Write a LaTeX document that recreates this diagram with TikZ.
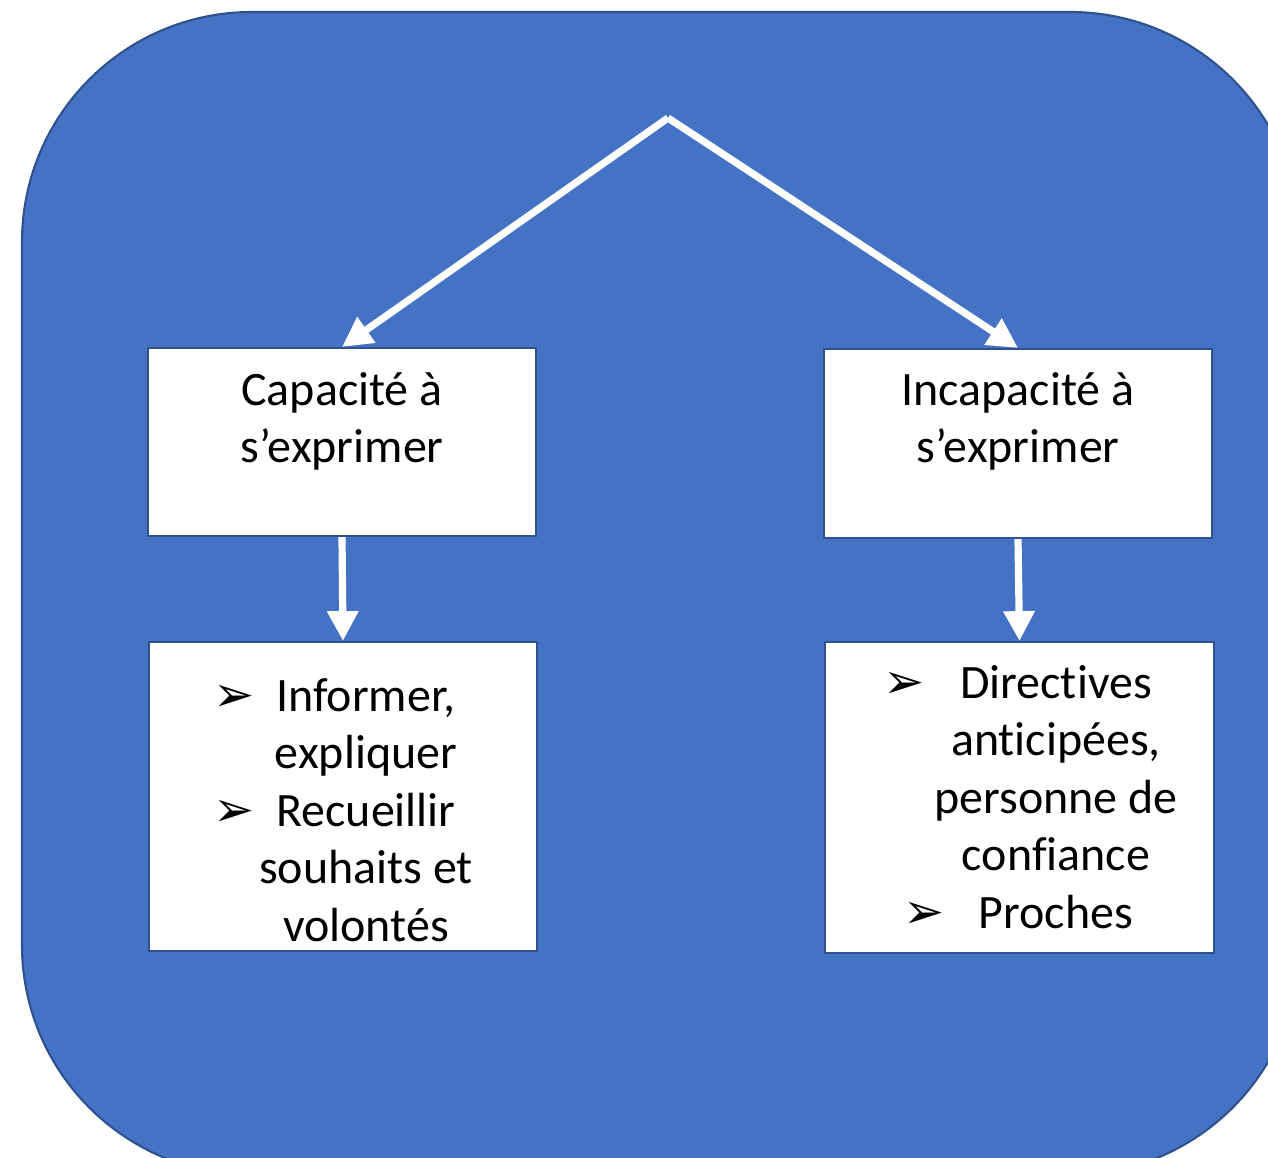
\documentclass[tikz,border=0pt]{standalone}
\usepackage{fontspec}
\setmainfont{Carlito}[Ligatures=NoCommon]
\newfontfamily\dejavu{DejaVu Sans}
\usetikzlibrary{arrows.meta,positioning}
\definecolor{fond}{HTML}{4472C4}
\definecolor{trait}{HTML}{2F528F}
\tikzset{cadre/.style={draw=trait,fill=white,line width=1.2pt,inner sep=0pt}, fleche/.style={-{Triangle[length=17pt,width=17pt]},line width=4.1pt,draw=white}, texte/.style={font=\fontsize{27.3}{32.7}\selectfont,align=center,inner sep=0pt,anchor=base}}
\newcommand{\puce}[1]{\llap{{\dejavu\fontsize{28}{28}\selectfont ➢}\hspace{#1}}}

\begin{document}
\begin{tikzpicture}[x=0.02cm,y=-0.02cm]
\clip (0,0) rectangle (1268,1158);
\draw[fill=fond,draw=trait,line width=1.2pt,rounded corners=4.6cm] (22,12) rectangle (1300,1175);
\coordinate (top) at (668,118);
\node[cadre,minimum width=7.76cm,minimum height=3.76cm] (cap) at (342,442) {};
\node[cadre,minimum width=7.76cm,minimum height=3.78cm] (incap) at (1018,443.5) {};
\node[cadre,minimum width=7.76cm,minimum height=6.18cm] (capL) at (343,796.5) {};
\node[cadre,minimum width=7.78cm,minimum height=6.22cm] (incapL) at (1019.5,797.5) {};
% base = derniere ligne
\node[texte] (capT) at (342,463) {Capacité à\\s’exprimer};
\node[texte] (incapT) at (1018,463) {Incapacité à\\s’exprimer};
\node[texte] (capLT) at (366,941) {\puce{12.5pt}Informer,\\expliquer\\\puce{12.5pt}Recueillir\\souhaits et\\volontés};
\node[texte] (incapLT) at (1056,928) {\puce{20pt}Directives\\anticipées,\\personne de\\confiance\\\puce{19.5pt}Proches};
\draw[fleche] (top) -- (cap.north);
\draw[fleche] (top) -- (incap.north);
\draw[fleche] (cap.south) -- (capL.north);
\draw[fleche] (incap.south) -- (incapL.north);
\end{tikzpicture}
\end{document}
